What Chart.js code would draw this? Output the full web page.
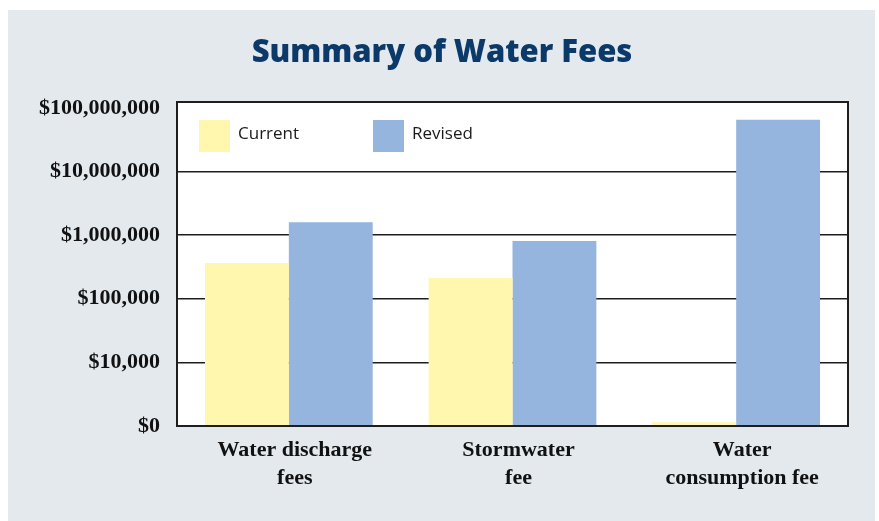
<!DOCTYPE html>
<html>
<head>
<meta charset="utf-8">
<script src="https://cdn.jsdelivr.net/npm/chart.js@4"></script>
<style>
  html, body { margin: 0; padding: 0; background: #ffffff; }
  #wrap { width: 879px; height: 521px; position: relative; }
</style>
</head>
<body>
<div id="wrap"><canvas id="feesChart"></canvas></div>
<script>
// --------------------
// Data
// --------------------
const chartTitle = "Summary of Water Fees";
const categories = [["Water discharge", "fees"], ["Stormwater", "fee"], ["Water", "consumption fee"]];
const currentFees = [365000, 213000, 1150];
const revisedFees = [1600000, 806000, 65000000];
const yTicks = [1000, 10000, 100000, 1000000, 10000000, 100000000];

const panelColor = "#e4e9ee";

// grey panel behind everything, white plot area, frame on top of bars
const panelPlugin = {
    id: "panel",
    beforeDraw(chart) {
        const { ctx, chartArea: a } = chart;
        ctx.save();
        ctx.fillStyle = panelColor;
        ctx.fillRect(8, 10, 867, 511);
        ctx.fillStyle = "#ffffff";
        ctx.fillRect(a.left, a.top, a.right - a.left, a.bottom - a.top);
        ctx.restore();
    },
    afterDatasetsDraw(chart) {
        const { ctx, chartArea: a } = chart;
        ctx.save();
        ctx.strokeStyle = "#1e1e1e";
        ctx.lineWidth = 2;
        ctx.strokeRect(a.left, a.top, a.right - a.left, a.bottom - a.top);
        ctx.restore();
    }
};

// title is centred on the panel, not the canvas
const panelTitle = {
    id: "panelTitle",
    afterDraw(chart) {
        const { ctx } = chart;
        ctx.save();
        ctx.font = "800 31px 'Open Sans'";
        ctx.fillStyle = "#0b3969";
        ctx.textAlign = "center";
        ctx.textBaseline = "middle";
        ctx.fillText(chartTitle, 442, 53);
        ctx.restore();
    }
};

// legend sits inside the plot, top-left
const innerLegend = {
    id: "innerLegend",
    afterDraw(chart) {
        const { ctx, chartArea: a } = chart;
        const offsets = [22, 196];
        ctx.save();
        ctx.font = "17px 'Open Sans'";
        ctx.textBaseline = "middle";
        chart.data.datasets.forEach((ds, i) => {
            const x = a.left + offsets[i];
            const y = a.top + 18;
            ctx.fillStyle = ds.backgroundColor;
            ctx.fillRect(x, y, 31, 32);
            ctx.fillStyle = "#1a1a1a";
            ctx.fillText(ds.label, x + 39, y + 14);
        });
        ctx.restore();
    }
};

const ctx = document.getElementById("feesChart").getContext("2d");
new Chart(ctx, {
    type: "bar",
    data: {
        labels: categories,
        datasets: [
            { label: "Current", data: currentFees, backgroundColor: "#fff7ad" },
            { label: "Revised", data: revisedFees, backgroundColor: "#95b5de" }
        ]
    },
    options: {
        responsive: true,
        maintainAspectRatio: false,
        animation: false,
        devicePixelRatio: 1,
        layout: { padding: { left: 0, right: 31, top: 102, bottom: 0 } },
        datasets: { bar: { categoryPercentage: 0.75, barPercentage: 1.0 } },
        plugins: {
            legend: { display: false },
            tooltip: { enabled: false },
            title: { display: false }
        },
        scales: {
            x: {
                grid: { display: false },
                border: { display: false },
                ticks: {
                    color: "#111",
                    padding: 2,
                    labelOffset: 6,
                    maxRotation: 0,
                    font: { family: "'Liberation Serif'", size: 22, weight: "bold", lineHeight: 1.27 }
                },
                afterFit(scale) { scale.height = 95; }
            },
            y: {
                type: "logarithmic",
                min: 1000,
                max: 124000000,
                grid: {
                    drawTicks: false,
                    lineWidth: 1.5,
                    color: c => (c.tick && c.tick.value === 100000000 ? "rgba(0,0,0,0)" : "#1e1e1e")
                },
                border: { display: false },
                afterBuildTicks(scale) {
                    scale.ticks = yTicks.map(v => ({ value: v }));
                },
                ticks: {
                    color: "#111",
                    padding: 17,
                    font: { family: "'Liberation Serif'", size: 22, weight: "bold" },
                    callback: v => (v === 1000 ? "$0" : "$" + Number(v).toLocaleString("en-US"))
                },
                afterFit(scale) { scale.width = 177; }
            }
        }
    },
    plugins: [panelPlugin, panelTitle, innerLegend]
});
</script>
</body>
</html>
